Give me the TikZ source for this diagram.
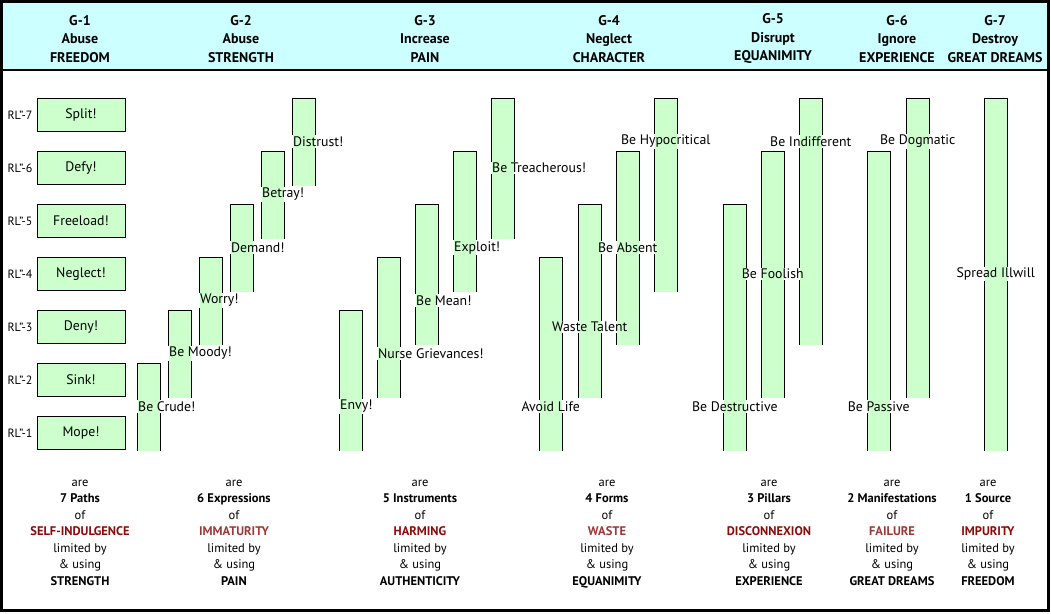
\documentclass[tikz,border=0pt]{standalone}
\usepackage{fontspec}
\setmainfont{PT Sans}

\definecolor{headcyan}{HTML}{CCFFFF}
\definecolor{barfill}{HTML}{CCFFCC}
\definecolor{deepred}{HTML}{8B0A0A}
\definecolor{softred}{HTML}{9B3838}

\pgfdeclarelayer{edge}
\pgfdeclarelayer{mask}
\pgfdeclarelayer{tint}
\pgfsetlayers{edge,mask,tint,main}

% bar: name, x left, from row, to row, label anchor, label y, text
\newcommand{\gbar}[7]{%
  \begin{pgfonlayer}{edge}
    \node[gbar, minimum height={(34+53*(#4-#3))*1pt}, anchor=north west] (#1) at (#2,{469-53*#4}) {};
  \end{pgfonlayer}
  \node[glabel, anchor=#5] (#1-t) at (#1.#5 |- 0,#6) {#7};
  \begin{pgfonlayer}{mask}
    \fill[white] (#1-t.south west) rectangle (#1-t.north east);
  \end{pgfonlayer}
  \begin{pgfonlayer}{tint}
    \fill[barfill] ([shift={(0.5pt,-0.5pt)}]#1.north west) rectangle ([shift={(-0.5pt,0.5pt)}]#1.south east);
  \end{pgfonlayer}
}

\begin{document}
\begin{tikzpicture}[x=1pt, y=-1pt,
    gbar/.style={draw, line width=1pt, minimum width=22.5pt, inner sep=0pt},
    glabel/.style={font=\fontsize{13.8}{15.5}\selectfont, inner sep=1pt},
    box/.style={draw, fill=barfill, line width=1pt, minimum width=88pt, minimum height=33.5pt},
    rowlabel/.style={font=\fontsize{12}{14}\selectfont},
    head/.style={font=\fontsize{14}{18.5}\selectfont\bfseries, align=center},
    foot/.style={font=\fontsize{12.5}{16.5}\selectfont, align=center, anchor=north}]
    \useasboundingbox (0,0) rectangle (1051,613);

    % Frame and header band
    \fill[headcyan] (1.5,1.5) rectangle (1048,70);
    \draw[line width=1.5pt] (1.5,70) -- (1048,70);
    \draw[line width=3pt] (1.5,1.5) rectangle (1048.5,610);

    % Header
    \node[head] (h1) at (80,39) {G-1\\Abuse\\FREEDOM};
    \node[head] (h2) at (241,39) {G-2\\Abuse\\STRENGTH};
    \node[head] (h3) at (425,39) {G-3\\Increase\\PAIN};
    \node[head] (h4) at (609,39) {G-4\\Neglect\\CHARACTER};
    \node[head] (h5) at (773,39) {G-5\\Disrupt\\EQUANIMITY};
    \node[head] (h6) at (897,39) {G-6\\Ignore\\EXPERIENCE};
    \node[head] (h7) at (995,39) {G-7\\Destroy\\GREAT DREAMS};

    % G-1 boxes and row labels
    \foreach \word [count=\k] in {Mope!, Sink!, Deny!, Neglect!, Freeload!, Defy!, Split!} {
        \node[box, glabel] (g1-\k) at (81,{486-53*\k}) {\word};
        \node[rowlabel] (rl-\k) at (20,{486-53*\k}) {RL\char34-\k};
    }

    % G-2
    \gbar{crude}{137}{1}{2}{west}{406.5}{Be Crude!}
    \gbar{moody}{168}{2}{3}{west}{353.5}{Be Moody!}
    \gbar{worry}{199}{3}{4}{west}{300.5}{Worry!}
    \gbar{demand}{230}{4}{5}{west}{247.5}{Demand!}
    \gbar{betray}{261}{5}{6}{west}{194.5}{Betray!}
    \gbar{distrust}{292}{6}{7}{west}{141.5}{Distrust!}

    % G-3
    \gbar{envy}{339}{1}{3}{west}{406.5}{Envy!}
    \gbar{nurse}{377}{2}{4}{west}{353.5}{Nurse Grievances!}
    \gbar{mean}{415}{3}{5}{west}{300.5}{Be Mean!}
    \gbar{exploit}{453}{4}{6}{west}{247.5}{Exploit!}
    \gbar{treach}{491}{5}{7}{west}{168}{Be Treacherous!}

    % G-4
    \gbar{avoid}{539}{1}{4}{center}{406.5}{Avoid Life}
    \gbar{waste}{578}{2}{5}{center}{327}{Waste Talent}
    \gbar{absent}{616}{3}{6}{center}{247.5}{Be Absent}
    \gbar{hypo}{654}{4}{7}{center}{141.5}{Be Hypocritical}

    % G-5
    \gbar{destr}{723}{1}{5}{center}{406.5}{Be Destructive}
    \gbar{fool}{761}{2}{6}{center}{274}{Be Foolish}
    \gbar{indiff}{799}{3}{7}{center}{141.5}{Be Indifferent}

    % G-6
    \gbar{passive}{867}{1}{6}{center}{406.5}{Be Passive}
    \gbar{dogma}{906}{2}{7}{center}{141.5}{Be Dogmatic}

    % G-7
    \gbar{spread}{984}{1}{7}{center}{274}{Spread Illwill}

    % Footer
    \node[foot] (f1) at (80,476.5) {are\\\textbf{7 Paths}\\of\\\textcolor{deepred}{\textbf{SELF-INDULGENCE}}\\limited by\\\& using\\\textbf{STRENGTH}};
    \node[foot] (f2) at (234,476.5) {are\\\textbf{6 Expressions}\\of\\\textcolor{softred}{\textbf{IMMATURITY}}\\limited by\\\& using\\\textbf{PAIN}};
    \node[foot] (f3) at (420,476.5) {are\\\textbf{5 Instruments}\\of\\\textcolor{deepred}{\textbf{HARMING}}\\limited by\\\& using\\\textbf{AUTHENTICITY}};
    \node[foot] (f4) at (607,476.5) {are\\\textbf{4 Forms}\\of\\\textcolor{softred}{\textbf{WASTE}}\\limited by\\\& using\\\textbf{EQUANIMITY}};
    \node[foot] (f5) at (769,476.5) {are\\\textbf{3 Pillars}\\of\\\textcolor{deepred}{\textbf{DISCONNEXION}}\\limited by\\\& using\\\textbf{EXPERIENCE}};
    \node[foot] (f6) at (892,476.5) {are\\\textbf{2 Manifestations}\\of\\\textcolor{softred}{\textbf{FAILURE}}\\limited by\\\& using\\\textbf{GREAT DREAMS}};
    \node[foot] (f7) at (988,476.5) {are\\\textbf{1 Source}\\of\\\textcolor{deepred}{\textbf{IMPURITY}}\\limited by\\\& using\\\textbf{FREEDOM}};
\end{tikzpicture}
\end{document}
